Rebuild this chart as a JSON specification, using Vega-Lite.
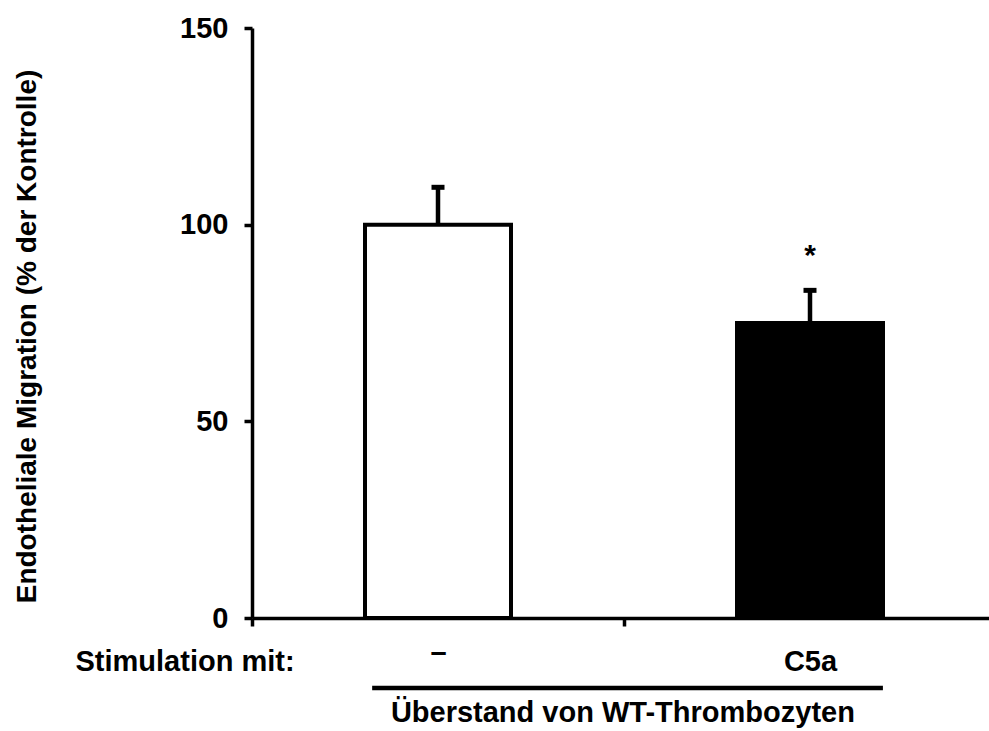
{
  "$schema": "https://vega.github.io/schema/vega-lite/v6.json",
  "width": 737,
  "height": 590,
  "autosize": {"type": "none"},
  "padding": {"left": 252, "top": 28, "right": 0, "bottom": 113},
  "background": "white",
  "config": {
    "view": {"stroke": null},
    "font": "Liberation Sans",
    "axis": {
      "domainColor": "black", "tickColor": "black", "labelColor": "black", "titleColor": "black",
      "labelFont": "Liberation Sans", "titleFont": "Liberation Sans",
      "labelFontWeight": "bold", "titleFontWeight": "bold",
      "labelFontSize": 29, "titleFontSize": 28,
      "domainWidth": 3.5, "tickWidth": 3.5, "tickSize": 8, "grid": false
    }
  },
  "datasets": {
    "bars": [
      {"group": "–", "value": 100, "err": 109.5},
      {"group": "C5a", "value": 75, "err": 83.3}
    ],
    "sig": [
      {"group": "C5a", "err": 83.3, "mark": "*"}
    ],
    "bracket": [
      {"from": 0.323, "to": 1.696, "level": -17.8, "center": 0.997, "textLevel": -26.4, "label": "Überstand von WT-Thrombozyten"}
    ]
  },
  "resolve": {"scale": {"x": "independent"}},
  "layer": [
    {
      "layer": [
        {
          "data": {"name": "bars"},
          "mark": {"type": "bar", "width": 146, "stroke": "black", "strokeWidth": 4},
          "encoding": {
            "x": {
              "field": "group", "type": "nominal", "sort": null,
              "scale": {"type": "band", "range": [0, 744], "paddingInner": 0, "paddingOuter": 0},
              "axis": {
                "title": "Stimulation mit:",
                "titleFontSize": 29,
                "titleX": -177, "titleY": 52, "titleAlign": "left", "titleBaseline": "alphabetic", "titleAnchor": "start",
                "labelAngle": 0, "tickBand": "extent",
                "labelPadding": {"condition": {"test": "datum.value === '–'", "value": 12}, "value": 21}
              }
            },
            "y": {
              "field": "value", "type": "quantitative",
              "scale": {"domain": [0, 150], "nice": false, "zero": true},
              "axis": {
                "values": [0, 50, 100, 150],
                "title": "Endotheliale Migration (% der Kontrolle)",
                "titleX": -225, "titleY": 308, "titleAlign": "center", "titleBaseline": "middle", "titleAngle": -90,
                "labelPadding": 16
              }
            },
            "fill": {
              "field": "group", "type": "nominal",
              "scale": {"domain": ["–", "C5a"], "range": ["white", "black"]},
              "legend": null
            }
          }
        },
        {
          "data": {"name": "bars"},
          "mark": {"type": "rule", "color": "black", "strokeWidth": 4.5},
          "encoding": {
            "x": {"field": "group", "type": "nominal", "sort": null},
            "y": {"field": "value", "type": "quantitative"},
            "y2": {"field": "err"}
          }
        },
        {
          "data": {"name": "bars"},
          "mark": {"type": "tick", "color": "black", "size": 13, "thickness": 5, "opacity": 1},
          "encoding": {
            "x": {"field": "group", "type": "nominal", "sort": null},
            "y": {"field": "err", "type": "quantitative"}
          }
        },
        {
          "data": {"name": "sig"},
          "mark": {"type": "text", "font": "Liberation Sans", "fontWeight": "bold", "fontSize": 30, "color": "black", "baseline": "alphabetic", "dy": -25},
          "encoding": {
            "x": {"field": "group", "type": "nominal", "sort": null},
            "y": {"field": "err", "type": "quantitative"},
            "text": {"field": "mark"}
          }
        }
      ]
    },
    {
      "data": {"name": "bracket"},
      "layer": [
        {
          "mark": {"type": "rule", "color": "black", "strokeWidth": 4.5},
          "encoding": {
            "x": {"field": "from", "type": "quantitative", "scale": {"domain": [0, 2], "range": [0, 744], "nice": false, "zero": false}, "axis": null},
            "x2": {"field": "to"},
            "y": {"field": "level", "type": "quantitative"}
          }
        },
        {
          "mark": {"type": "text", "font": "Liberation Sans", "fontWeight": "bold", "fontSize": 29, "color": "black", "baseline": "alphabetic", "align": "center"},
          "encoding": {
            "x": {"field": "center", "type": "quantitative"},
            "y": {"field": "textLevel", "type": "quantitative"},
            "text": {"field": "label"}
          }
        }
      ]
    }
  ]
}
